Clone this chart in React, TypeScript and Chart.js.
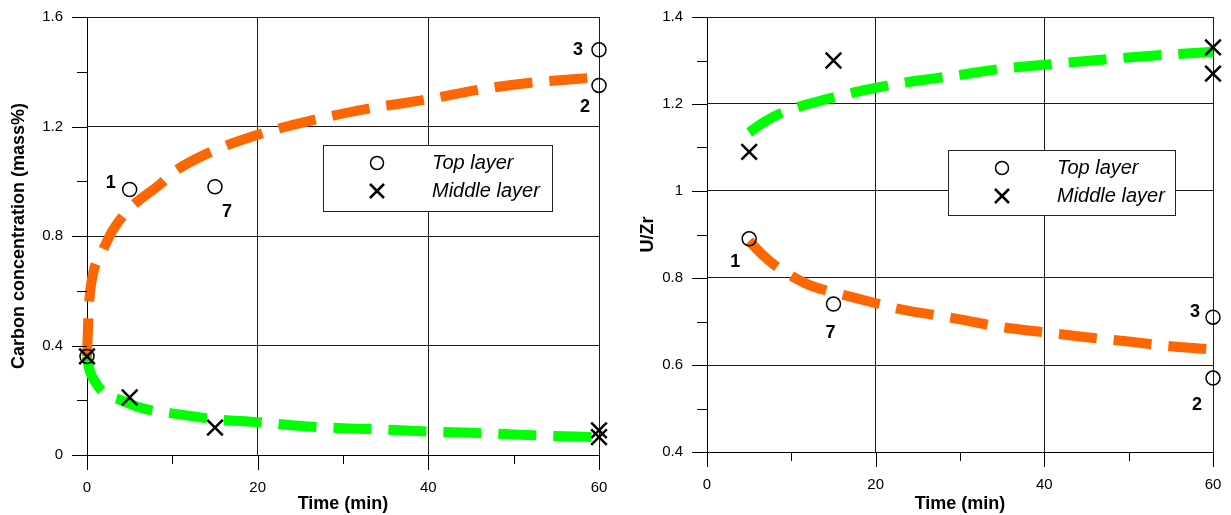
import React, { useEffect, useRef } from 'react';
import { Chart, registerables } from 'chart.js';

Chart.register(...registerables);

const FONT = "'Liberation Sans', Arial, Helvetica, sans-serif";

// Shared
const LEGEND_LABELS = ['Top layer', 'Middle layer'];
const X_LABELS = ['0', '20', '40', '60'];
const X_TITLE = 'Time (min)';

// ---------- Left chart: carbon concentration ----------
const L_Y_TITLE = 'Carbon concentration (mass%)';
const L_Y_LABELS = ['0', '0.4', '0.8', '1.2', '1.6'];
const L_TOP_T = [0, 5, 15, 60, 60];
const L_TOP_V = [0.36, 0.97, 0.98, 1.48, 1.35];
const L_TOP_NUMS = ['', '1', '7', '3', '2'];
const L_MID_T = [0, 5, 15, 60, 60];
const L_MID_V = [0.36, 0.21, 0.1, 0.09, 0.065];
const L_TOP_FIT_T = [0, 0.2, 0.7, 1.75, 3, 5, 8.6, 10, 14, 20, 26, 33, 40, 46, 52, 60];
const L_TOP_FIT_V = [0.36, 0.53, 0.66, 0.74, 0.82, 0.9, 0.99, 1.03, 1.1, 1.17, 1.22, 1.265, 1.3, 1.335, 1.36, 1.38];
const L_MID_FIT_T = [0, 0.3, 1, 2, 4, 6, 8, 10, 15, 20, 25, 30, 35, 40, 45, 50, 55, 60];
const L_MID_FIT_V = [0.36, 0.31, 0.265, 0.226, 0.2, 0.175, 0.16, 0.152, 0.131, 0.12, 0.106, 0.098, 0.093, 0.086, 0.081, 0.075, 0.069, 0.065];

// ---------- Right chart: U/Zr ----------
const R_Y_TITLE = 'U/Zr';
const R_Y_LABELS = ['0.4', '0.6', '0.8', '1', '1.2', '1.4'];
const R_TOP_T = [5, 15, 60, 60];
const R_TOP_V = [0.89, 0.74, 0.71, 0.57];
const R_TOP_NUMS = ['1', '7', '3', '2'];
const R_MID_T = [5, 15, 60, 60];
const R_MID_V = [1.09, 1.3, 1.33, 1.27];
const R_TOP_FIT_T = [5, 6.5, 8, 10, 12, 14, 16, 20, 23, 27, 30, 35, 40, 45, 50, 55, 60];
const R_TOP_FIT_V = [0.885, 0.855, 0.83, 0.805, 0.785, 0.772, 0.762, 0.742, 0.728, 0.715, 0.705, 0.687, 0.675, 0.664, 0.654, 0.643, 0.636];
const R_MID_FIT_T = [5, 6.5, 8, 10, 12, 14, 17, 20, 23, 27, 30, 35, 40, 45, 50, 55, 60];
const R_MID_FIT_V = [1.135, 1.155, 1.172, 1.188, 1.2, 1.21, 1.225, 1.237, 1.248, 1.259, 1.267, 1.281, 1.29, 1.299, 1.307, 1.314, 1.32];

const ORANGE = '#FF6600';
const GREEN = '#00FF00';

const fmt = (v: number) => String(parseFloat(v.toFixed(2)));
const pts = (t: number[], v: number[]) => t.map((x, i) => ({ x, y: v[i] }));

interface Spec {
  width: number;
  yMin: number; yMax: number; yStep: number;
  yLabels: string[]; yTitle: string; yTitlePad: number;
  xAxisH: number; padRight: number;
  topT: number[]; topV: number[]; nums: string[]; numOffsets: number[][];
  midT: number[]; midV: number[];
  topFitT: number[]; topFitV: number[];
  midFitT: number[]; midFitV: number[];
  legendBox: { x: number; y: number; w: number; h: number };
}

function overlay(s: Spec) {
  return {
    id: 'overlay',
    afterDraw(chart: any) {
      const { ctx, chartArea, scales } = chart;
      const x = scales.x;
      const y = scales.y;
      ctx.save();
      ctx.strokeStyle = '#000';
      ctx.lineWidth = 1;
      // y tick marks
      y.ticks.forEach((t: any) => {
        const major = s.yLabels.includes(fmt(t.value));
        const py = Math.round(y.getPixelForValue(t.value)) + 0.5;
        const len = major ? 15 : 10;
        ctx.beginPath();
        ctx.moveTo(chartArea.left - len, py);
        ctx.lineTo(chartArea.left, py);
        ctx.stroke();
      });
      // x tick marks
      x.ticks.forEach((t: any) => {
        const major = X_LABELS.includes(fmt(t.value));
        const px = Math.round(x.getPixelForValue(t.value)) + 0.5;
        const len = major ? 15 : 9;
        ctx.beginPath();
        ctx.moveTo(px, chartArea.bottom);
        ctx.lineTo(px, chartArea.bottom + len);
        ctx.stroke();
      });
      // point number labels
      ctx.fillStyle = '#000';
      ctx.font = `bold 18px ${FONT}`;
      ctx.textAlign = 'center';
      ctx.textBaseline = 'middle';
      s.nums.forEach((n, i) => {
        if (!n) return;
        const px = x.getPixelForValue(s.topT[i]) + s.numOffsets[i][0];
        const py = y.getPixelForValue(s.topV[i]) + s.numOffsets[i][1];
        ctx.fillText(n, px, py);
      });
      // legend
      const lg = s.legendBox;
      ctx.fillStyle = '#fff';
      ctx.fillRect(lg.x, lg.y, lg.w, lg.h);
      ctx.strokeStyle = '#222';
      ctx.lineWidth = 1;
      ctx.strokeRect(lg.x + 0.5, lg.y + 0.5, lg.w, lg.h);
      ctx.strokeStyle = '#000';
      const sx = lg.x + 54;
      const r1 = lg.y + 18;
      const r2 = lg.y + 46;
      ctx.lineWidth = 1.5;
      ctx.beginPath();
      ctx.arc(sx, r1, 6.5, 0, Math.PI * 2);
      ctx.stroke();
      ctx.lineWidth = 2.5;
      const h = 7;
      ctx.beginPath();
      ctx.moveTo(sx - h, r2 - h); ctx.lineTo(sx + h, r2 + h);
      ctx.moveTo(sx + h, r2 - h); ctx.lineTo(sx - h, r2 + h);
      ctx.stroke();
      ctx.fillStyle = '#000';
      ctx.font = `italic 20px ${FONT}`;
      ctx.textAlign = 'left';
      ctx.textBaseline = 'middle';
      ctx.fillText(LEGEND_LABELS[0], lg.x + 109, r1);
      ctx.fillText(LEGEND_LABELS[1], lg.x + 109, r2);
      ctx.restore();
    },
  };
}

function buildConfig(s: Spec): any {
  const gridColor = (labels: string[]) => (c: any) =>
    c.tick && labels.includes(fmt(c.tick.value)) ? '#1a1a1a' : 'rgba(0,0,0,0)';
  return {
    type: 'scatter',
    data: {
      datasets: [
        {
          label: LEGEND_LABELS[0],
          data: pts(s.topT, s.topV),
          pointStyle: 'circle',
          pointRadius: 7,
          borderColor: '#000',
          backgroundColor: 'rgba(0,0,0,0)',
          borderWidth: 1.5,
          order: 0,
          clip: false,
        },
        {
          label: LEGEND_LABELS[1],
          data: pts(s.midT, s.midV),
          pointStyle: 'crossRot',
          pointRadius: 11,
          borderColor: '#000',
          backgroundColor: '#000',
          borderWidth: 2.5,
          order: 0,
          clip: false,
        },
        {
          type: 'line',
          label: 'top fit',
          data: pts(s.topFitT, s.topFitV),
          borderColor: ORANGE,
          borderWidth: 10,
          borderDash: [38, 17],
          borderCapStyle: 'butt',
          pointRadius: 0,
          cubicInterpolationMode: 'monotone',
          fill: false,
          order: 2,
          clip: false,
        },
        {
          type: 'line',
          label: 'middle fit',
          data: pts(s.midFitT, s.midFitV),
          borderColor: GREEN,
          borderWidth: 10,
          borderDash: [38, 17],
          borderCapStyle: 'butt',
          pointRadius: 0,
          cubicInterpolationMode: 'monotone',
          fill: false,
          order: 2,
          clip: false,
        },
      ],
    },
    options: {
      responsive: false,
      animation: false,
      devicePixelRatio: 1,
      events: [],
      layout: { autoPadding: false, padding: { top: 17, right: s.padRight, left: 0, bottom: 0 } },
      plugins: { legend: { display: false }, tooltip: { enabled: false } },
      scales: {
        x: {
          type: 'linear',
          min: 0,
          max: 60,
          afterFit: (sc: any) => { sc.height = s.xAxisH; },
          ticks: {
            stepSize: 10,
            autoSkip: false,
            maxRotation: 0,
            padding: 0,
            color: '#000',
            font: { family: FONT, size: 15 },
            callback: (v: number) => (X_LABELS.includes(fmt(v)) ? fmt(v) : ''),
          },
          grid: {
            drawTicks: true,
            tickLength: 24,
            tickColor: 'rgba(0,0,0,0)',
            color: gridColor(X_LABELS),
            lineWidth: 1,
          },
          border: { display: true, color: '#000', width: 1 },
          title: {
            display: true,
            text: X_TITLE,
            color: '#000',
            font: { family: FONT, size: 18, weight: 'bold' },
            padding: { top: 0, bottom: 0 },
          },
        },
        y: {
          type: 'linear',
          min: s.yMin,
          max: s.yMax,
          afterFit: (sc: any) => { sc.width = 87; },
          ticks: {
            stepSize: s.yStep,
            autoSkip: false,
            padding: 0,
            color: '#000',
            font: { family: FONT, size: 15 },
            callback: (v: number) => (s.yLabels.includes(fmt(v)) ? fmt(v) : ''),
          },
          grid: {
            drawTicks: true,
            tickLength: 24,
            tickColor: 'rgba(0,0,0,0)',
            color: gridColor(s.yLabels),
            lineWidth: 1,
          },
          border: { display: true, color: '#000', width: 1 },
          title: {
            display: true,
            text: s.yTitle,
            color: '#000',
            font: { family: FONT, size: 18, weight: 'bold' },
            padding: { top: s.yTitlePad, bottom: 0 },
          },
        },
      },
    },
    plugins: [overlay(s)],
  };
}

const LEFT_SPEC: Spec = {
  width: 620,
  yMin: 0, yMax: 1.6, yStep: 0.2,
  yLabels: L_Y_LABELS, yTitle: L_Y_TITLE, yTitlePad: 8,
  xAxisH: 60, padRight: 21,
  topT: L_TOP_T, topV: L_TOP_V, nums: L_TOP_NUMS,
  numOffsets: [[0, 0], [-19, -6], [12, 25], [-21, 0], [-14, 22]],
  midT: L_MID_T, midV: L_MID_V,
  topFitT: L_TOP_FIT_T, topFitV: L_TOP_FIT_V,
  midFitT: L_MID_FIT_T, midFitV: L_MID_FIT_V,
  legendBox: { x: 323, y: 145, w: 229, h: 66 },
};

const RIGHT_SPEC: Spec = {
  width: 611,
  yMin: 0.4, yMax: 1.4, yStep: 0.1,
  yLabels: R_Y_LABELS, yTitle: R_Y_TITLE, yTitlePad: 17,
  xAxisH: 63, padRight: 18,
  topT: R_TOP_T, topV: R_TOP_V, nums: R_TOP_NUMS,
  numOffsets: [[-14, 23], [-3, 29], [-18, -5], [-16, 27]],
  midT: R_MID_T, midV: R_MID_V,
  topFitT: R_TOP_FIT_T, topFitV: R_TOP_FIT_V,
  midFitT: R_MID_FIT_T, midFitV: R_MID_FIT_V,
  legendBox: { x: 328, y: 150, w: 227, h: 65 },
};

function Panel({ spec, left }: { spec: Spec; left: number }) {
  const ref = useRef<HTMLCanvasElement>(null);
  useEffect(() => {
    if (!ref.current) return;
    const chart = new Chart(ref.current, buildConfig(spec));
    return () => chart.destroy();
  }, [spec]);
  return (
    <canvas
      ref={ref}
      width={spec.width}
      height={515}
      style={{ position: 'absolute', left, top: 0, width: spec.width, height: 515 }}
    />
  );
}

export default function App() {
  return (
    <div style={{ position: 'fixed', left: 0, top: 0, width: 1231, height: 515, background: '#fff', overflow: 'hidden' }}>
      <Panel spec={LEFT_SPEC} left={0} />
      <Panel spec={RIGHT_SPEC} left={620} />
    </div>
  );
}
